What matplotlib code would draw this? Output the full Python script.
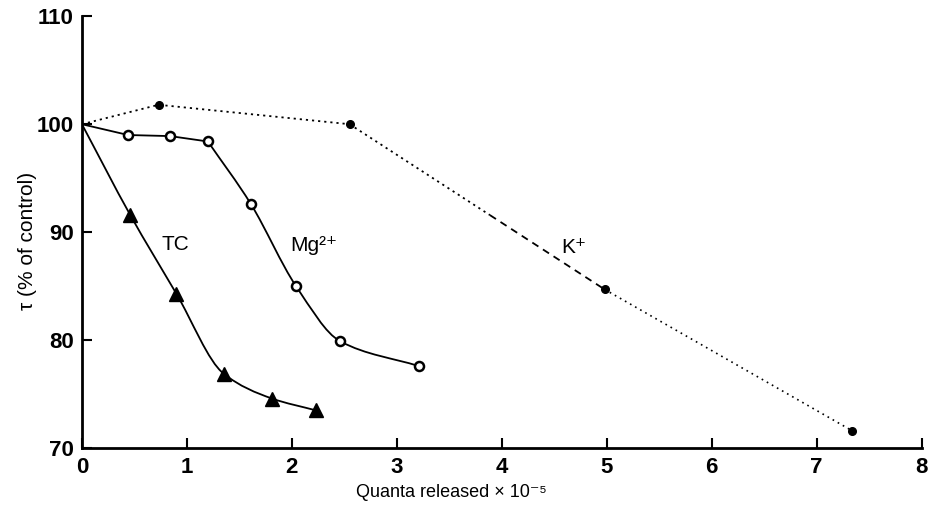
import numpy as np
import matplotlib
matplotlib.use("Agg")
import matplotlib.pyplot as plt
from matplotlib.path import Path
from matplotlib.patches import PathPatch

plt.rcParams['font.family'] = ['Liberation Sans', 'DejaVu Sans']

# ---- data ----
k_x = [0.0, 0.73, 2.55, 4.98, 7.34]
k_y = [100.0, 101.8, 100.0, 84.7, 71.6]

mg_x = [0.0, 0.44, 0.84, 1.20, 1.61, 2.04, 2.46, 3.21]
mg_y = [100.0, 99.0, 98.9, 98.4, 92.6, 85.0, 79.9, 77.6]

tc_x = [0.0, 0.46, 0.90, 1.35, 1.81, 2.23]
tc_y = [100.0, 91.6, 84.3, 76.9, 74.6, 73.5]

x_ticks = [0, 1, 2, 3, 4, 5, 6, 7, 8]
y_ticks = [70, 80, 90, 100, 110]

labels = ["TC", "Mg²⁺", "K⁺"]
label_pos = [(0.76, 88.9), (1.98, 88.8), (4.57, 88.6)]


def monotone_path(xs, ys):
    """Smooth monotone cubic (Fritsch-Carlson) through points, as Bezier path."""
    x = np.asarray(xs, float)
    y = np.asarray(ys, float)
    h = np.diff(x)
    d = np.diff(y) / h
    n = len(x)
    m = np.zeros(n)
    m[0] = d[0]
    m[-1] = d[-1]
    for k in range(1, n - 1):
        if d[k - 1] * d[k] <= 0:
            m[k] = 0.0
        else:
            w1 = 2 * h[k] + h[k - 1]
            w2 = h[k] + 2 * h[k - 1]
            m[k] = (w1 + w2) / (w1 / d[k - 1] + w2 / d[k])
    verts = [(x[0], y[0])]
    codes = [Path.MOVETO]
    for k in range(n - 1):
        verts += [(x[k] + h[k] / 3, y[k] + m[k] * h[k] / 3),
                  (x[k + 1] - h[k] / 3, y[k + 1] - m[k + 1] * h[k] / 3),
                  (x[k + 1], y[k + 1])]
        codes += [Path.CURVE4] * 3
    return Path(verts, codes)


fig = plt.figure(figsize=(9.31, 5.07), dpi=100)
ax = fig.add_axes([0.088, 0.116, 0.902, 0.852])
ax.set_xlim(0, 8)
ax.set_ylim(70, 110)

# K+ line: dotted, with a dashed stretch before the 5 x 10^5 point
dot = (0, (1.2, 2.2))
dash = (0, (4, 3))
ax.plot(k_x[0:3], k_y[0:3], color='black', lw=1.3, linestyle=dot)
frac = 0.55
mx = k_x[2] + frac * (k_x[3] - k_x[2])
my = np.interp(mx, [k_x[2], k_x[3]], [k_y[2], k_y[3]])
ax.plot([k_x[2], mx], [k_y[2], my], color='black', lw=1.3, linestyle=dot)
ax.plot([mx, k_x[3]], [my, k_y[3]], color='black', lw=1.3, linestyle=dash)
ax.plot(k_x[3:5], k_y[3:5], color='black', lw=1.2, linestyle=(0, (1, 2.5)))
ax.plot(k_x[1:], k_y[1:], 'o', color='black', ms=5.5, zorder=5)

# Mg2+ line: straight for plateau, smooth afterwards
ax.plot(mg_x[:4], mg_y[:4], color='black', lw=1.3)
ax.add_patch(PathPatch(monotone_path(mg_x[3:], mg_y[3:]), fill=False,
                       edgecolor='black', lw=1.3))
ax.plot(mg_x[1:], mg_y[1:], 'o', mfc='white', mec='black', mew=1.8,
        ms=6.5, zorder=5)

# TC line
ax.add_patch(PathPatch(monotone_path(tc_x, tc_y), fill=False,
                       edgecolor='black', lw=1.3))
ax.plot(tc_x[1:], tc_y[1:], '^', color='black', ms=10, zorder=5)

for txt, (lx, ly) in zip(labels, label_pos):
    ax.text(lx, ly, txt, fontsize=15, ha='left', va='center')

ax.spines['top'].set_visible(False)
ax.spines['right'].set_visible(False)
ax.spines['left'].set_linewidth(2)
ax.spines['bottom'].set_linewidth(2)
ax.set_xticks(x_ticks)
ax.set_yticks(y_ticks)
ax.tick_params(direction='in', length=7, width=1.5, labelsize=16, pad=6)
for lab in ax.get_xticklabels() + ax.get_yticklabels():
    lab.set_fontweight('bold')
ax.set_xlabel("Quanta released × 10⁻⁵", fontsize=13)
ax.xaxis.set_label_coords(0.44, -0.082)
ax.set_ylabel("τ (% of control)", fontsize=15)
ax.yaxis.set_label_coords(-0.054, 0.48)

fig.savefig("out.png", dpi=100)
